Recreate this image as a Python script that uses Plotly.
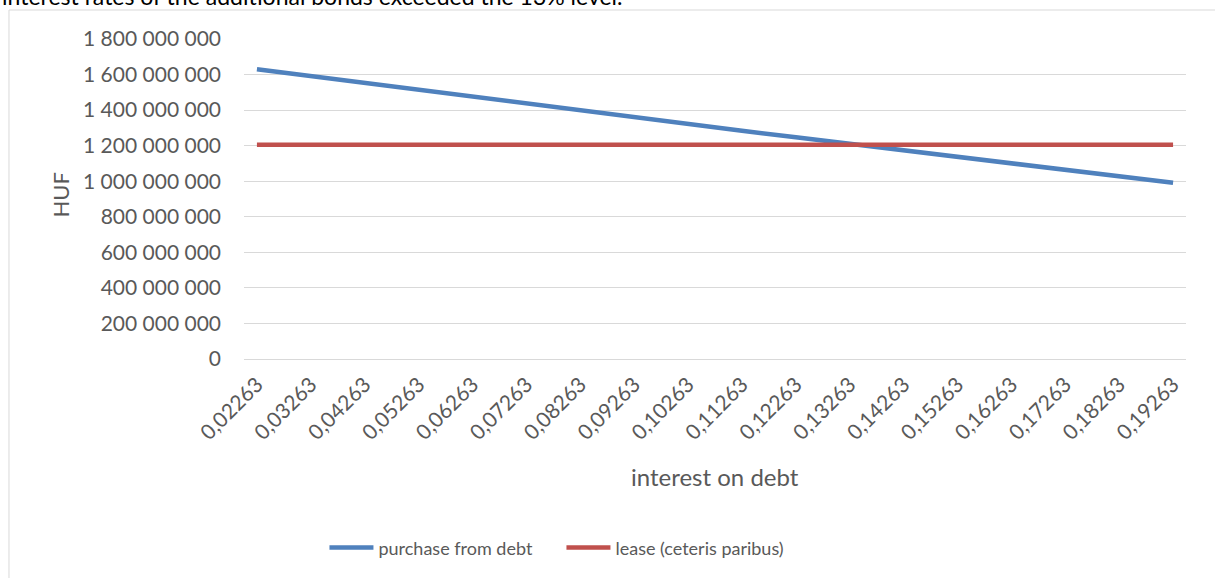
import plotly.graph_objects as go

# interest rate categories (x axis labels, decimal comma as in the source)
rates = ["0,02263", "0,03263", "0,04263", "0,05263", "0,06263", "0,07263",
         "0,08263", "0,09263", "0,10263", "0,11263", "0,12263", "0,13263",
         "0,14263", "0,15263", "0,16263", "0,17263", "0,18263", "0,19263"]

# HUF values
purchase_from_debt = [1630e6, 1591e6, 1552e6, 1513e6, 1474e6, 1436e6,
                      1398e6, 1360e6, 1322e6, 1284e6, 1247e6, 1210e6,
                      1173e6, 1136e6, 1099e6, 1063e6, 1027e6, 991e6]
lease = [1205e6] * len(rates)

FONT = "Lato"
GREY = "#595959"
GRID = "#D9D9D9"

fig = go.Figure()
fig.add_trace(go.Scatter(x=rates, y=purchase_from_debt, mode="lines", name="purchase from debt",
                         line=dict(color="#4F81BD", width=4.5)))
fig.add_trace(go.Scatter(x=rates, y=lease, mode="lines", name="lease (ceteris paribus)",
                         line=dict(color="#C0504D", width=4.5)))

fig.update_layout(
    width=1215, height=578,
    margin=dict(l=244, r=29, t=39, b=219),
    paper_bgcolor="white", plot_bgcolor="white",
    font=dict(family=FONT, size=21, color=GREY),
    separators=", ",
    hovermode=False,
    legend=dict(orientation="h", x=0.337, xanchor="center", y=-0.59, yanchor="middle",
                font=dict(size=18, color=GREY), itemwidth=44, entrywidth=178,
                traceorder="normal"),
)
fig.update_xaxes(type="category", range=[-0.24, len(rates) - 1 + 0.24], tickangle=-45,
                 showgrid=False, showline=True, linecolor=GRID, linewidth=1,
                 ticks="", ticklabelstandoff=4, tickfont=dict(size=21, color=GREY))
fig.update_yaxes(range=[0, 1.8e9], dtick=2e8, tickformat=",d", showgrid=True, gridcolor=GRID,
                 gridwidth=1, zeroline=False, showline=False, ticks="", ticklabelstandoff=22,
                 tickfont=dict(size=21, color=GREY))

# axis titles
fig.add_annotation(text="interest on debt", xref="paper", yref="paper", x=0.5, y=-0.366,
                   showarrow=False, font=dict(size=24, color=GREY), xanchor="center", yanchor="middle")
fig.add_annotation(text="HUF", xref="paper", yref="paper", x=-0.1948, y=0.5125, textangle=-90,
                   showarrow=False, font=dict(size=22, color=GREY), xanchor="center", yanchor="middle")

# clipped sentence from the surrounding document above the chart
fig.add_annotation(text="interest rates of the additional bonds exceeded the 13% level.",
                   xref="paper", yref="paper", x=-0.259, y=1, yshift=43, xanchor="left",
                   yanchor="middle", showarrow=False, font=dict(family=FONT, size=23, color="#000000"))

# chart frame
fig.add_shape(type="rect", xref="paper", yref="paper", x0=-0.2495, x1=1.2, y0=-1.0, y1=1.0906,
              line=dict(color=GRID, width=1), fillcolor="rgba(0,0,0,0)", layer="below")

# drop the browser's default 8px body margin so the figure sits at the page corner
fig.write_html("out.html", config={"displayModeBar": False},
               post_script="document.body.style.margin='0';")
